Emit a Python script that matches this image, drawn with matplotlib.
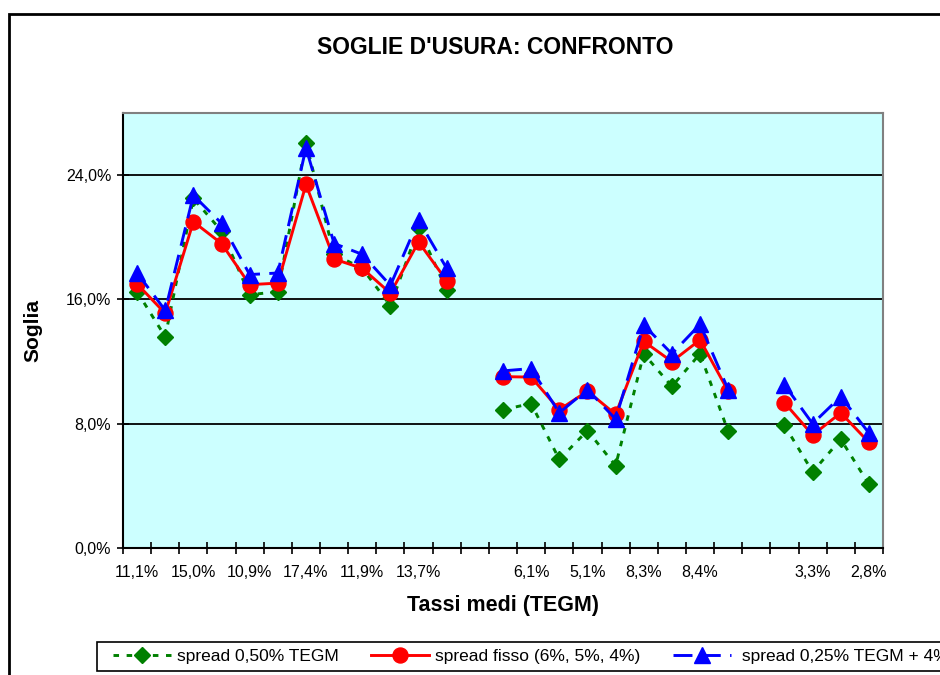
import numpy as np
import matplotlib
matplotlib.use("Agg")
import matplotlib.pyplot as plt
from matplotlib.ticker import FixedLocator, FuncFormatter
from matplotlib.patches import Rectangle

plt.rcParams['font.family'] = ['Liberation Sans', 'DejaVu Sans']

nan = np.nan
# category labels (shown every other category, as in the reference)
tick_labels = ["11,1%", "", "15,0%", "", "10,9%", "", "17,4%", "", "11,9%", "",
               "13,7%", "", "", "", "6,1%", "", "5,1%", "", "8,3%", "",
               "8,4%", "", "", "", "3,3%", "", "2,8%"]

# series values (%)
spread_050 = [16.5, 13.6, 22.5, 20.4, 16.3, 16.5, 26.1, 18.9, 18.0, 15.6, 20.6, 16.6,
              nan, 8.9, 9.3, 5.7, 7.56, 5.3, 12.5, 10.4, 12.5, 7.5,
              nan, 7.9, 4.9, 7.0, 4.1]
spread_fisso = [17.0, 15.1, 21.0, 19.6, 16.95, 17.05, 23.4, 18.6, 18.0, 16.4, 19.7, 17.2,
                nan, 11.03, 11.0, 8.9, 10.1, 8.6, 13.3, 12.0, 13.4, 10.1,
                nan, 9.35, 7.27, 8.7, 6.8]
spread_025 = [17.7, 15.3, 22.7, 20.9, 17.6, 17.7, 25.75, 19.6, 18.9, 16.9, 21.1, 18.0,
              nan, 11.4, 11.55, 8.7, 10.2, 8.3, 14.35, 12.5, 14.4, 10.2,
              nan, 10.5, 8.0, 9.75, 7.4]

series_names = ["spread 0,50% TEGM", "spread fisso (6%, 5%, 4%)", " spread 0,25% TEGM + 4%"]
yticks = [0, 8, 16, 24]

W, H = 940, 675
fig = plt.figure(figsize=(W / 100, H / 100), dpi=100)

def fx(px):
    return px / W

def fy(py):
    return 1 - py / H

# outer chart frame
fig.patches.append(Rectangle((fx(9), fy(700)), fx(1000), fy(14) - fy(700),
                             transform=fig.transFigure, fill=False,
                             edgecolor='black', linewidth=2.0, zorder=0))
# legend frame
fig.patches.append(Rectangle((fx(97), fy(671)), fx(1000), fy(642) - fy(671),
                             transform=fig.transFigure, fill=True, facecolor='white',
                             edgecolor='black', linewidth=1.2, zorder=0))

left, right, top, bottom = 123, 883, 113, 548
ax = fig.add_axes([fx(left), fy(bottom), fx(right) - fx(left), fy(top) - fy(bottom)])
ax.set_facecolor('#CCFFFF')

x = np.arange(len(tick_labels))
y1 = np.array(spread_050) / 100
y2 = np.array(spread_fisso) / 100
y3 = np.array(spread_025) / 100

ax.plot(x, y1, color='#008000', lw=2.1, linestyle=(0, (1.9, 2.6)),
        marker='D', markersize=8, markeredgecolor='#008000', markerfacecolor='#008000', zorder=3,
        label=series_names[0])
ax.plot(x, y2, color='#FF0000', lw=2.1, linestyle='-',
        marker='o', markersize=10.8, markeredgecolor='#FF0000', markerfacecolor='#FF0000', zorder=4,
        label=series_names[1])
ax.plot(x, y3, color='#0000FF', lw=2.1, linestyle=(0, (6.5, 3.2)),
        marker='^', markersize=11.5, markeredgecolor='#0000FF', markerfacecolor='#0000FF', zorder=5,
        label=series_names[2])

ax.set_xlim(-0.5, len(tick_labels) - 0.5)
ax.set_ylim(0, 0.28)

# gridlines
ax.set_yticks([v / 100 for v in yticks])
ax.yaxis.set_major_formatter(FuncFormatter(lambda v, p: f"{v*100:.1f}%".replace('.', ',')))
ax.grid(axis='y', color='black', linewidth=1.3, zorder=1)
ax.set_axisbelow(True)
ax.tick_params(axis='y', direction='inout', length=9, width=1.2, labelsize=11.5, pad=4)

# x: ticks at category boundaries, labels at category centres
ax.xaxis.set_major_locator(FixedLocator(np.arange(-0.5, len(tick_labels), 1.0)))
ax.xaxis.set_major_formatter(FuncFormatter(lambda v, p: ""))
ax.xaxis.set_minor_locator(FixedLocator(x))
ax.set_xticklabels(tick_labels, minor=True)
ax.tick_params(axis='x', which='major', direction='inout', length=8, width=1.2)
ax.tick_params(axis='x', which='minor', length=0, labelsize=11.5, pad=12)

for s in ['top', 'right']:
    ax.spines[s].set_color('#808080')
    ax.spines[s].set_linewidth(1.5)
for s in ['left', 'bottom']:
    ax.spines[s].set_color('black')
    ax.spines[s].set_linewidth(1.5)

fig.text(fx(495), fy(47), "SOGLIE D'USURA: CONFRONTO", ha='center', va='center',
         fontsize=16.5, fontweight='bold')
fig.text(fx(503), fy(605), "Tassi medi (TEGM)", ha='center', va='center',
         fontsize=15.5, fontweight='bold')
fig.text(fx(33), fy(331), "Soglia", ha='center', va='center', rotation=90,
         fontsize=15, fontweight='bold')

leg = fig.legend(loc='center left', bbox_to_anchor=(fx(113), fy(656)), ncol=3,
                 fontsize=12.5, frameon=False,
                 handlelength=3.35, handletextpad=0.35, columnspacing=1.85,
                 borderpad=0, borderaxespad=0)

fig.savefig("out.png", dpi=100)
